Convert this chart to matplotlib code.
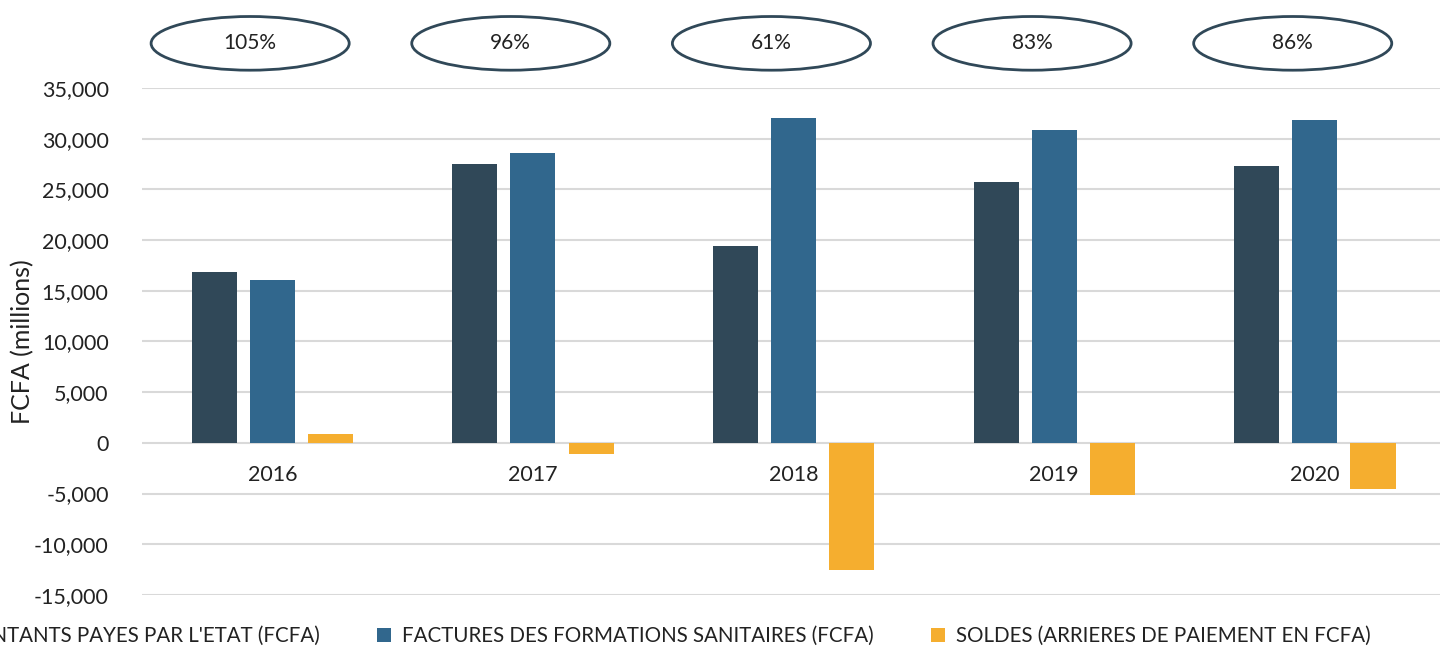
import matplotlib
matplotlib.use('agg')
import matplotlib.pyplot as plt
import matplotlib.transforms as mtransforms
from matplotlib.patches import Ellipse
from matplotlib.ticker import FuncFormatter
import numpy as np

plt.rcParams['font.family'] = ['Lato', 'DejaVu Sans']

years = ['2016', '2017', '2018', '2019', '2020']
montants = [16900, 27500, 19450, 25700, 27300]
factures = [16050, 28600, 32000, 30850, 31800]
soldes = [850, -1100, -12550, -5150, -4500]
taux = ['105%', '96%', '61%', '83%', '86%']

series_names = ["MONTANTS PAYES PAR L'ETAT (FCFA)",
                "FACTURES DES FORMATIONS SANITAIRES (FCFA)",
                "SOLDES (ARRIERES DE PAIEMENT EN FCFA)"]
colors = ['#304858', '#31678D', '#F5AE2F']

fig = plt.figure(figsize=(14.4, 6.47), dpi=100)
ax = fig.add_axes([0.0986, 0.0804, 0.905, 0.7836])

x = np.arange(len(years))
w = 0.173
off = 0.223
for k, vals in enumerate([montants, factures, soldes]):
    ax.bar(x + (k - 1) * off, vals, width=w, color=colors[k], label=series_names[k], zorder=3)

ax.set_xlim(-0.5, 4.5)
ax.set_ylim(-15000, 35000)
ax.set_yticks(np.arange(-15000, 35001, 5000))
ax.yaxis.set_major_formatter(FuncFormatter(lambda v, p: f"{int(v):,}"))
ax.tick_params(axis='y', length=0, pad=24, labelsize=15.5, labelcolor='#222222')
ax.set_xticks([])
ax.grid(axis='y', color='#D9D9D9', linewidth=1.5, zorder=0)
for s in ax.spines.values():
    s.set_visible(False)
ax.set_ylabel('FCFA (millions)', fontsize=18, color='#222222')
ax.yaxis.set_label_coords(-0.083, 0.5)

for i, y in enumerate(years):
    ax.text(i, -3150, y, ha='center', va='center', fontsize=15.5, color='#222222', zorder=4)

trans = mtransforms.blended_transform_factory(ax.transData, fig.transFigure)
for i, t in enumerate(taux):
    cx = i - 0.085
    e = Ellipse((cx, 0.933), width=0.76, height=0.083, transform=trans,
                facecolor='white', edgecolor='#304858', linewidth=2, clip_on=False)
    ax.add_patch(e)
    ax.text(cx, 0.933, t, transform=trans, ha='center', va='center', fontsize=15, color='#222222')

fig.legend(loc='center', bbox_to_anchor=(0.452, 0.017), ncol=3, frameon=False,
           fontsize=14.8, handlelength=0.65, handleheight=0.65, columnspacing=2.8,
           handletextpad=0.55, labelcolor='#222222')

fig.savefig('out.png', dpi=100)
